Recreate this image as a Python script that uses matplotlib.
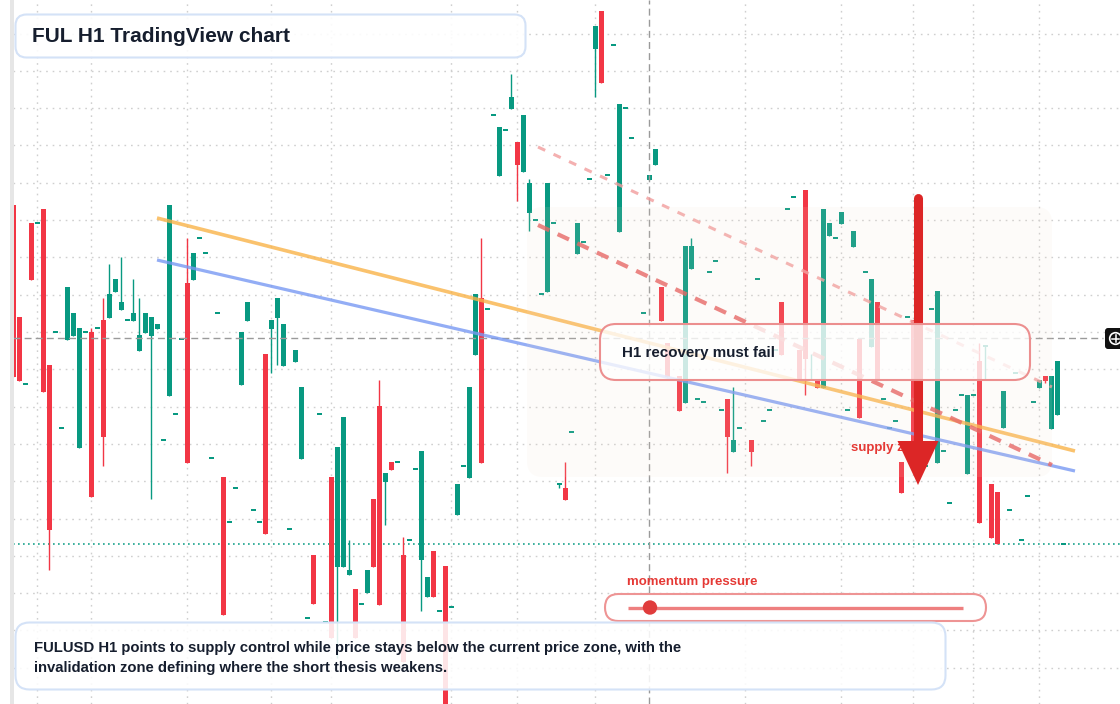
import numpy as np
import matplotlib
matplotlib.use("Agg")
import matplotlib.pyplot as plt
from matplotlib.patches import FancyBboxPatch, Rectangle, Circle, Polygon

plt.rcParams['font.family'] = ['Liberation Sans', 'DejaVu Sans']

# ---- FULUSD H1 candles (price units) ----
opens = [4.99, 3.87, 3.20, 4.81, 4.81, 4.95, 3.39, 3.72, 2.76, 3.64,
         3.68, 2.56, 3.72, 3.72, 3.76, 3.84, 3.86, 4.12, 3.94, 3.84,
         3.83, 3.53, 3.71, 3.68, 3.75, 2.64, 3.08, 2.90, 3.65, 4.21,
         4.24, 4.66, 4.51, 2.46, 3.91, 2.27, 1.82, 2.16, 3.19, 3.83,
         1.94, 1.82, 3.50, 3.75, 3.86, 3.38, 1.75, 3.42, 2.45, 0.86,
         1.49, 2.90, 0.82, 2.27, 1.37, 1.37, 1.29, 1.15, 1.00, 1.11,
         2.05, 2.98, 2.22, 2.42, 2.42, 1.49, 1.64, 2.35, 1.44, 1.07,
         1.53, 0.93, 1.38, 0.97, 1.89, 2.38, 2.26, 3.49, 4.06, 3.95,
         5.89, 5.28, 5.74, 5.95, 5.62, 5.32, 4.91, 4.84, 4.10, 4.12,
         4.81, 2.20, 2.16, 2.72, 4.50, 4.62, 5.25, 6.55, 6.93, 5.29,
         6.59, 4.72, 5.96, 5.66, 3.80, 3.91, 5.24, 5.39, 4.17, 3.61,
         3.80, 3.28, 3.01, 4.35, 3.05, 3.02, 4.32, 4.43, 2.94, 3.05,
         2.52, 2.76, 3.80, 2.64, 4.25, 2.83, 2.94, 3.54, 4.02, 4.95,
         5.07, 3.54, 5.14, 3.24, 3.24, 3.16, 4.68, 4.66, 4.80, 2.94,
         4.57, 3.65, 4.32, 3.57, 4.02, 3.05, 2.76, 2.83, 2.42, 3.87,
         3.84, 4.11, 2.38, 3.95, 2.41, 2.53, 2.01, 2.94, 3.09, 2.30,
         3.09, 3.43, 3.58, 2.20, 2.12, 2.76, 1.94, 3.31, 1.64, 2.08,
         3.02, 3.16, 3.28, 2.75, 2.89, 1.60]
closes = [3.27, 3.23, 3.20, 4.24, 4.81, 3.12, 1.74, 3.72, 2.76, 4.17,
          3.91, 3.76, 3.72, 2.07, 3.76, 2.67, 4.10, 4.25, 4.02, 3.84,
          3.91, 3.69, 3.91, 3.87, 3.80, 2.64, 4.99, 2.90, 3.65, 2.41,
          4.51, 4.66, 4.51, 2.46, 3.91, 0.89, 1.82, 2.16, 3.72, 4.02,
          1.94, 1.82, 1.70, 3.84, 4.06, 3.80, 1.75, 3.54, 3.17, 0.86,
          1.00, 2.90, 0.82, 0.66, 2.57, 2.87, 1.34, 0.66, 1.00, 1.34,
          1.37, 0.99, 2.31, 2.34, 2.42, 0.42, 1.64, 2.35, 2.53, 1.27,
          1.07, 0.93, -0.10, 0.97, 2.20, 2.38, 3.17, 4.10, 2.41, 3.95,
          5.89, 5.77, 5.74, 6.07, 5.39, 5.89, 5.21, 4.84, 4.10, 5.21,
          4.81, 2.20, 2.04, 2.72, 4.81, 4.62, 5.25, 6.78, 6.21, 5.29,
          6.59, 6.00, 5.96, 5.66, 3.80, 3.91, 5.29, 5.55, 3.83, 3.27,
          3.80, 2.93, 4.58, 4.58, 3.05, 3.02, 4.32, 4.43, 2.94, 2.67,
          2.64, 2.76, 3.80, 2.52, 4.25, 2.83, 2.94, 3.54, 3.49, 4.95,
          5.07, 3.24, 3.45, 3.24, 3.16, 4.95, 4.81, 4.66, 4.92, 2.94,
          4.73, 2.86, 4.32, 4.25, 3.24, 3.05, 2.76, 2.83, 2.11, 3.87,
          2.34, 3.74, 2.38, 3.95, 4.13, 2.53, 2.01, 2.94, 3.09, 3.09,
          3.09, 1.81, 3.58, 1.66, 1.60, 3.13, 1.94, 3.31, 1.64, 2.08,
          3.02, 3.24, 3.23, 3.28, 3.43, 1.60]
# wicks that reach past the body (candle index -> price)
wick_highs = {13: 3.76, 15: 4.06, 16: 4.40, 18: 4.47, 20: 4.25, 21: 4.06,
              29: 4.66, 56: 1.64, 61: 3.24, 65: 1.67, 78: 4.66, 83: 6.30,
              86: 5.25, 92: 2.42, 113: 4.66, 120: 3.17, 133: 3.50, 161: 3.61}
wick_lows = {6: 1.34, 15: 2.38, 23: 2.05, 43: 3.31, 44: 3.39, 54: 0.46,
             62: 1.79, 68: 0.93, 84: 5.03, 86: 4.73, 91: 2.16, 97: 6.07,
             119: 2.31, 123: 2.38, 132: 3.09, 162: 3.24, 172: 3.21}

# levels / trend lines: (x0, y0, x1, y1) in candle index / price
orange_trend = (23.95, 4.86, 176.95, 2.53)
blue_trend = (23.95, 4.44, 176.95, 2.33)
red_trend = (87.45, 4.79, 173.1, 2.39)
pink_trend = (87.45, 5.57, 173.1, 3.17)
current_price = 3.66
crosshair_bar = 106
teal_level = 1.60
grid_bars = [4, 13, 29, 43, 53, 73, 84, 97, 122, 138, 150, 160, 171]
grid_prices = [6.704 - 0.373 * k for k in range(18)]

GREEN = '#089981'
RED = '#f23645'
INK = '#161e2e'

fig = plt.figure(figsize=(11.2, 7.04), dpi=100)
ax = fig.add_axes([0, 0, 1, 1])
ax.set_xlim(-2.217, 184.45)
ax.set_ylim(0, 7.04)
ax.axis('off')

for g in grid_bars:
    ax.axvline(g, color='#cfcfcf', lw=1, ls=(0, (1.2, 3.5)), zorder=0)
for g in grid_prices:
    ax.axhline(g, xmin=0.012, color='#cfcfcf', lw=1, ls=(0, (1.2, 3.5)), zorder=0)

ax.axhline(teal_level, xmin=0.012, color='#1aa38c', lw=1.2, ls=(0, (1, 2)), zorder=1)

idx = np.arange(len(opens))
o = np.array(opens)
c = np.array(closes)
up = c >= o
cols = np.where(up, GREEN, RED)
top = np.maximum(o, c)
bot = np.minimum(o, c)
hi = np.array([wick_highs.get(i, top[i]) for i in idx])
lo = np.array([wick_lows.get(i, bot[i]) for i in idx])
ax.vlines(idx, lo, hi, colors=cols, lw=1, zorder=2)
flat = (top - bot) < 0.01
heights = np.where(flat, 0.014, top - bot)
bottoms = np.where(flat, bot - 0.007, bot)
ax.bar(idx, heights, bottom=bottoms, width=0.83, color=cols, linewidth=0, zorder=2.1)

ax.axvline(crosshair_bar, color='#9a9a9a', lw=1, ls=(0, (5, 3)), zorder=2.5)
ax.axhline(current_price, xmin=0.012, xmax=0.985, color='#9a9a9a', lw=1,
           ls=(0, (5, 3)), zorder=2.5)

ax.plot(orange_trend[::2], orange_trend[1::2], color='#f9b348', alpha=0.8, lw=2.6, zorder=4,
        solid_capstyle='butt')
ax.plot(blue_trend[::2], blue_trend[1::2], color='#7899f3', alpha=0.8, lw=2.3, zorder=4,
        solid_capstyle='butt')
ax.plot(red_trend[::2], red_trend[1::2], color='#e65b5b', alpha=0.8, lw=3, zorder=4,
        dashes=(3, 2.2))
ax.plot(pink_trend[::2], pink_trend[1::2], color='#f29c9c', alpha=0.8, lw=2.2, zorder=4,
        dashes=(2.6, 3))

# ---- overlay in pixel coordinates ----
ov = fig.add_axes([0, 0, 1, 1], zorder=5)
ov.set_xlim(0, 1120)
ov.set_ylim(704, 0)
ov.axis('off')


def rbox(x, y, w, h, r, fc, ec, lw=1.5, alpha=1.0, z=3):
    p = FancyBboxPatch((x, y), w, h, boxstyle=f"round,pad=0,rounding_size={r}",
                       fc=fc, ec=ec, lw=lw, zorder=z)
    p.set_facecolor(matplotlib.colors.to_rgba(fc, alpha))
    ov.add_patch(p)
    return p


# faint supply zone
rbox(527, 207, 525, 270, 16, '#f2ddca', 'none', lw=0, alpha=0.11, z=0.5)

# left price-scale strip
ov.add_patch(Rectangle((0, 0), 9.5, 704, color='white', lw=0, zorder=6))
ov.add_patch(Rectangle((9.5, 0), 4, 704, color='#e6e6e6', lw=0, zorder=6))

# arrow + label
ov.text(851, 448, 'supply zone', color='#e53935', fontsize=9.5, fontweight='bold',
        va='center', ha='left', zorder=1)
ov.plot([918, 918], [198, 446], color='#dc2626', lw=6.5, solid_capstyle='round', zorder=2)
ov.add_patch(Polygon([(897.5, 441), (938.5, 441), (918, 485)], closed=True,
                     fc='#dc2626', ec='none', zorder=2))

# H1 recovery box
rbox(600, 324, 430, 56, 16, 'white', '#ec8f8f', lw=1.5, alpha=0.78, z=3)
ov.text(622, 353.5, 'H1 recovery must fail', color=INK, fontsize=10.9, fontweight='bold',
        va='center', ha='left', zorder=4)

# title box
rbox(15.5, 14.5, 510, 43, 11, 'white', '#d4e2f7', lw=1.5, alpha=0.9, z=3)
ov.text(32, 37, 'FUL H1 TradingView chart', color=INK, fontsize=15, fontweight='bold',
        va='center', ha='left', zorder=4)

# momentum widget
ov.text(627, 582.5, 'momentum pressure', color='#e53935', fontsize=9.5, fontweight='bold',
        va='center', ha='left', zorder=4)
rbox(605, 594, 381, 27, 13.5, 'white', '#ee9494', lw=1.5, z=3)
ov.plot([627.5, 963], [607.5, 607.5], color='#ee7f7f', lw=2.4, zorder=4, solid_capstyle='butt')
ov.add_patch(Circle((650, 607.5), 7.2, fc='#e03c3c', ec='none', zorder=5))

# bottom note
rbox(15.5, 622.5, 930, 67, 14, 'white', '#d4e2f7', lw=1.5, alpha=0.87, z=3)
ov.text(34, 648, 'FULUSD H1 points to supply control while price stays below the current price zone, with the',
        color=INK, fontsize=10.7, fontweight='bold', va='center', ha='left', zorder=4)
ov.text(34, 668, 'invalidation zone defining where the short thesis weakens.',
        color=INK, fontsize=10.7, fontweight='bold', va='center', ha='left', zorder=4)

# crosshair price-label button
rbox(1105, 328, 22, 21, 3, '#111111', 'none', lw=0, z=6)
ov.add_patch(Circle((1115.5, 338.5), 5.8, fc='none', ec='white', lw=1.2, zorder=7))
ov.plot([1112, 1119], [338.5, 338.5], color='white', lw=1.1, zorder=7)
ov.plot([1115.5, 1115.5], [335, 342], color='white', lw=1.1, zorder=7)

fig.savefig('out.png', dpi=100)
